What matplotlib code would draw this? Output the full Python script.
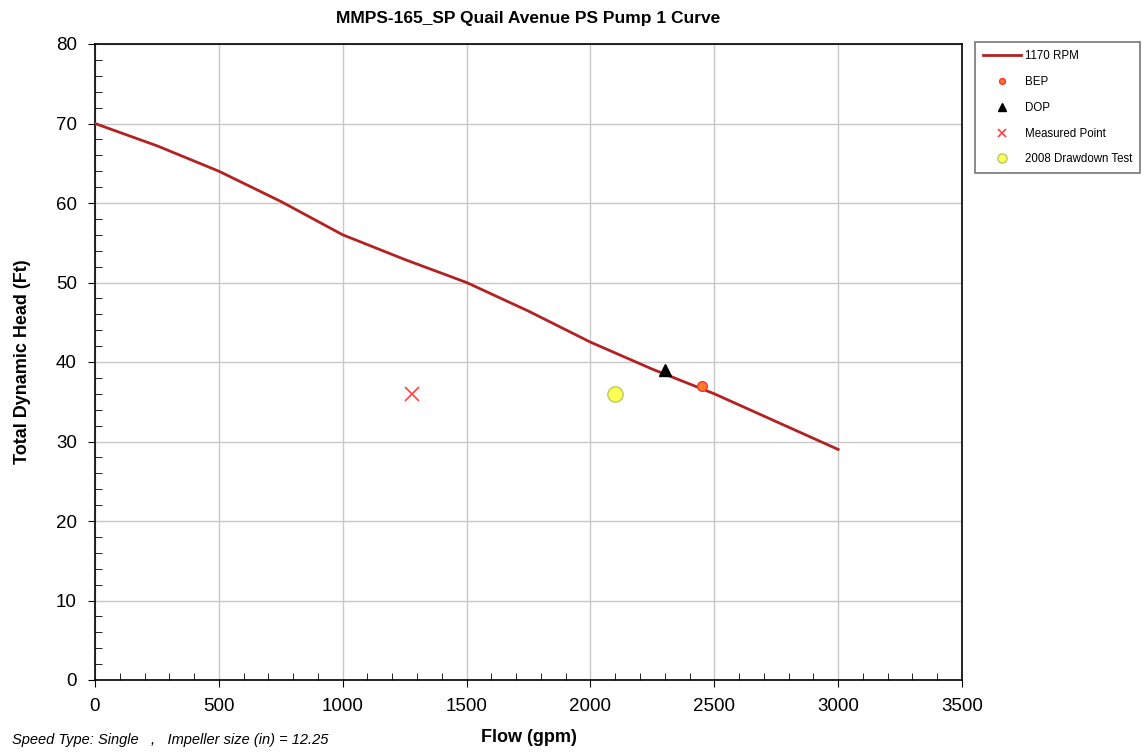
import matplotlib
matplotlib.use("Agg")
import matplotlib.pyplot as plt
from matplotlib.ticker import MultipleLocator

plt.rcParams["font.family"] = ["Liberation Sans", "DejaVu Sans"]

# pump curve at 1170 RPM
flow = [0, 250, 500, 750, 1000, 1250, 1500, 1750, 2000, 2250, 2500, 2750, 3000]
head = [70, 67.2, 64, 60.2, 56, 52.9, 50, 46.4, 42.5, 39.1, 36, 32.5, 29]

bep = (2450, 37)
dop = (2300, 39)
measured = (1280, 36)
drawdown = (2100, 36)

fig = plt.figure(figsize=(11.48, 7.55), dpi=100)
ax = fig.add_axes([95 / 1148, 75 / 755, 867 / 1148, 636 / 755])

ax.plot(flow, head, color="#b22222", lw=2, label="1170 RPM", zorder=3)
ax.plot(*bep, "o", color="#ff7f27", mec="#ff3030", ms=7, label="BEP", zorder=4)
ax.plot(*dop, "^", color="black", ms=9, label="DOP", zorder=4)
ax.plot(*measured, "x", color="#ff4040", ms=10, mew=1.2, label="Measured Point", zorder=4)
ax.plot(*drawdown, "o", color="#ffff55", mec="#b8c860", ms=11, label="2008 Drawdown Test", zorder=4)

ax.set_xlim(0, 3500)
ax.set_ylim(0, 80)
ax.xaxis.set_major_locator(MultipleLocator(500))
ax.xaxis.set_minor_locator(MultipleLocator(100))
ax.yaxis.set_major_locator(MultipleLocator(10))
ax.yaxis.set_minor_locator(MultipleLocator(2))
ax.tick_params(which="major", direction="out", length=5, labelsize=13.5, pad=8)
ax.tick_params(which="minor", direction="in", length=5)
ax.grid(which="major", color="#c8c8c8", lw=1)
for s in ax.spines.values():
    s.set_linewidth(1.2)

ax.set_title("MMPS-165_SP Quail Avenue PS Pump 1 Curve", fontsize=12.5, fontweight="bold", pad=15)
ax.set_xlabel("Flow (gpm)", fontsize=13, fontweight="bold", labelpad=10)
ax.set_ylabel("Total Dynamic Head (Ft)", fontsize=13, fontweight="bold", labelpad=18)

fig.text(12 / 1148, 1 - 740 / 755, "Speed Type: Single   ,   Impeller size (in) = 12.25",
         fontsize=10.5, style="italic", va="center")

leg = ax.legend(loc="upper left", bbox_to_anchor=(975 / 1148, 1 - 42 / 755),
                bbox_transform=fig.transFigure, fontsize=8.3, frameon=True, fancybox=False,
                edgecolor="#555555", borderpad=0.7, labelspacing=1.2, handlelength=3.3,
                handletextpad=0.3, borderaxespad=0, markerscale=0.6)
leg.get_frame().set_linewidth(1.2)

fig.savefig("out.png", dpi=100)
